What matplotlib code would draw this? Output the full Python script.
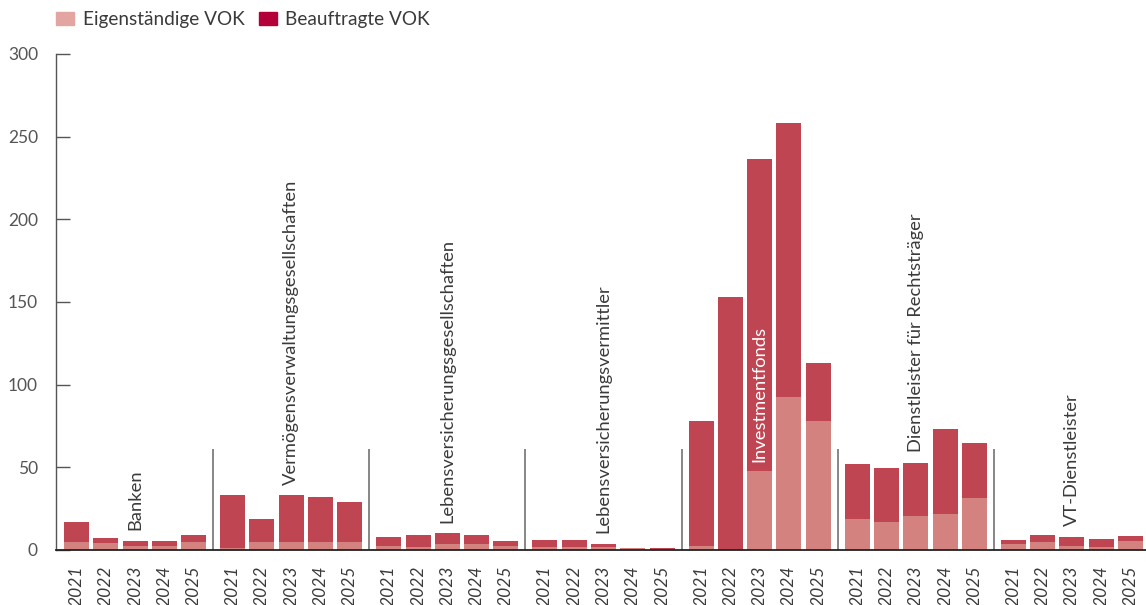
import matplotlib.pyplot as plt
from matplotlib.patches import Patch
import numpy as np

categories = ['Banken',
              'Vermögensverwaltungsgesellschaften',
              'Lebensversicherungsgesellschaften',
              'Lebensversicherungsvermittler',
              'Investmentfonds',
              'Dienstleister für Rechtsträger',
              'VT-Dienstleister']
years = ['2021', '2022', '2023', '2024', '2025']

# values per category, one entry per year
eigen = [[5, 4, 2.5, 2.5, 5],
         [1, 5, 5, 5, 5],
         [2.5, 2, 3.5, 3.5, 2.5],
         [2, 2, 2, 1.5, 0.5],
         [2.5, 0, 48, 92.5, 78],
         [19, 17, 20.5, 22, 31.5],
         [3.5, 5, 2.5, 2, 5.5]]
beauftragt = [[12, 3, 3, 3, 4],
              [32, 14, 28, 27, 24],
              [5.5, 7, 6.5, 5.5, 3],
              [4, 4, 1.5, 0, 1],
              [75.5, 153, 188.5, 165.5, 35],
              [33, 32.5, 32, 51, 33],
              [2.5, 4, 5.5, 4.5, 3]]


def main():
    plt.rcParams['font.family'] = ['Lato', 'DejaVu Sans']
    text_col = '#3a3a3a'
    light = '#D48280'
    dark = '#C04552'

    fig = plt.figure(figsize=(11.46, 6.05), dpi=100)
    ax = fig.add_axes([56 / 1146, 55 / 605, 1 - 56 / 1146, (550 - 54) / 605])

    group_step = 16 / 3
    xs, labels = [], []
    for g, cat in enumerate(categories):
        x = g * group_step + np.arange(len(years))
        e = np.array(eigen[g])
        b = np.array(beauftragt[g])
        ax.bar(x, e, width=0.855, color=light, linewidth=0)
        ax.bar(x, b, bottom=e, width=0.855, color=dark, linewidth=0)
        xs.extend(x)
        labels.extend(years)

        mid = len(years) // 2
        total = e[mid] + b[mid]
        if total > 150:
            ax.text(x[mid], e[mid] + 5, cat, rotation=90, ha='center',
                    va='bottom', color='white', fontsize=13.2)
        else:
            ax.text(x[mid], total + 6.5, cat, rotation=90, ha='center',
                    va='bottom', color=text_col, fontsize=13.2)

        if g > 0:
            ax.vlines(x[0] - 0.5 - (group_step - 5) / 2, 0, 61,
                      color='#666666', linewidth=1.1)

    ax.set_xlim(-0.70, xs[-1] + 0.53)
    ax.set_ylim(0, 300)
    ax.set_yticks([0, 50, 100, 150, 200, 250, 300])
    ax.set_xticks(xs)
    ax.set_xticklabels(labels, rotation=90, fontstyle='italic')

    ax.tick_params(axis='x', length=0, pad=11, labelsize=12.5,
                   labelcolor=text_col)
    ax.tick_params(axis='y', direction='in', length=10, width=1,
                   color='#555555', pad=13, labelsize=12.5, labelcolor='#555555')

    for side in ['top', 'right']:
        ax.spines[side].set_visible(False)
    ax.spines['left'].set_color('#555555')
    ax.spines['left'].set_linewidth(1)
    ax.spines['bottom'].set_color('#222222')
    ax.spines['bottom'].set_linewidth(1.3)

    handles = [Patch(color='#E3A5A2', label='Eigenständige VOK'),
               Patch(color='#B4003A', label='Beauftragte VOK')]
    fig.legend(handles=handles, loc='upper left',
               bbox_to_anchor=(56 / 1146, 1 - 11 / 605), ncol=2,
               frameon=False, fontsize=13.7, handlelength=0.95,
               handleheight=0.7, handletextpad=0.45, columnspacing=0.75,
               borderpad=0, borderaxespad=0, labelcolor=text_col)

    fig.savefig('out.png', dpi=100)


if __name__ == '__main__':
    main()
